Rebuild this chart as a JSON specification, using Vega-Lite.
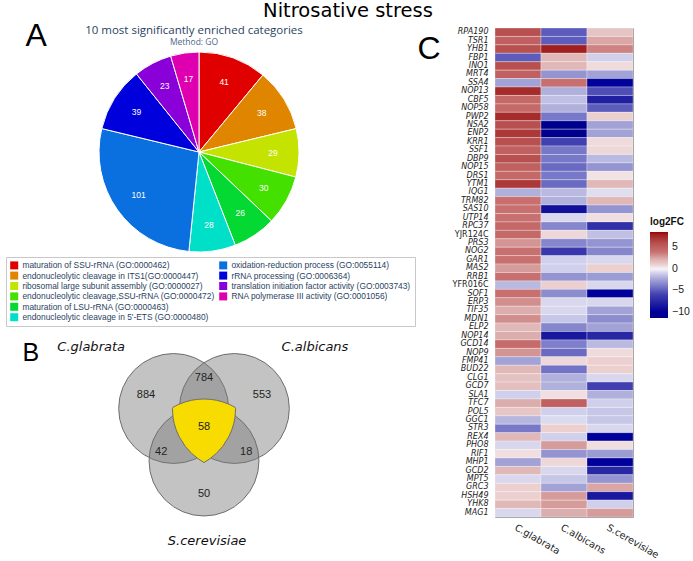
{
  "$schema": "https://vega.github.io/schema/vega-lite/v6.json",
  "background": "white",
  "padding": {"left": 5, "top": 0, "right": 0, "bottom": 0},
  "config": {"view": {"stroke": null}, "font": "Liberation Sans"},
  "title": {"text": "Nitrosative stress", "font": "DejaVu Sans", "fontSize": 19.5, "fontWeight": "normal", "color": "#000000", "anchor": "middle", "offset": -2},
  "datasets": {
    "pie": [
      {"idx": 1, "category": "maturation of SSU-rRNA (GO:0000462)", "count": 41},
      {"idx": 2, "category": "endonucleolytic cleavage in ITS1(GO:0000447)", "count": 38},
      {"idx": 3, "category": "ribosomal large subunit assembly (GO:0000027)", "count": 29},
      {"idx": 4, "category": "endonucleolytic cleavage,SSU-rRNA (GO:0000472)", "count": 30},
      {"idx": 5, "category": "maturation of LSU-rRNA (GO:0000463)", "count": 26},
      {"idx": 6, "category": "endonucleolytic cleavage in 5'-ETS (GO:0000480)", "count": 28},
      {"idx": 7, "category": "oxidation-reduction process (GO:0055114)", "count": 101},
      {"idx": 8, "category": "rRNA processing (GO:0006364)", "count": 39},
      {"idx": 9, "category": "translation initiation factor activity (GO:0003743)", "count": 23},
      {"idx": 10, "category": "RNA polymerase III activity (GO:0001056)", "count": 17}
    ]
  },
  "spacing": 158,
  "bounds": "flush",
  "hconcat": [
    {
      "width": 276,
      "height": 248,
      "title": {"text": "10 most significantly enriched categories", "subtitle": "Method: GO", "fontSize": 11.5, "font": "Open Sans", "fontWeight": "normal", "color": "#2a3f5f", "subtitleFont": "Open Sans", "subtitleFontSize": 8.5, "subtitleColor": "#506784", "subtitlePadding": 1, "offset": 0, "dy": 27, "frame": "group", "anchor": "middle", "dx": -5},
      "layer": [
        {
          "data": {"name": "pie"},
          "mark": {"type": "arc", "outerRadius": 100, "stroke": "#ffffff", "strokeWidth": 1},
          "encoding": {
            "theta": {"field": "count", "type": "quantitative", "stack": true},
            "order": {"field": "idx", "type": "quantitative"},
            "color": {
              "field": "category", "type": "nominal",
              "scale": {
                "domain": ["maturation of SSU-rRNA (GO:0000462)", "endonucleolytic cleavage in ITS1(GO:0000447)", "ribosomal large subunit assembly (GO:0000027)", "endonucleolytic cleavage,SSU-rRNA (GO:0000472)", "maturation of LSU-rRNA (GO:0000463)", "endonucleolytic cleavage in 5'-ETS (GO:0000480)", "oxidation-reduction process (GO:0055114)", "rRNA processing (GO:0006364)", "translation initiation factor activity (GO:0003743)", "RNA polymerase III activity (GO:0001056)", "blank1", "blank2"],
                "range": ["#e00000", "#e08500", "#c5e300", "#44e000", "#03d932", "#00dfc8", "#0a6fdf", "#0000dd", "#8a00d8", "#de00b0", "#ffffff", "#ffffff"]
              },
              "legend": {
                "title": null, "orient": "none", "legendX": -55, "legendY": 229, "columns": 2,
                "symbolType": "square", "symbolSize": 64, "symbolStrokeWidth": 0,
                "labelFont": "Liberation Sans", "labelFontSize": 8.4, "labelColor": "#2a3f5f", "labelLimit": 300,
                "rowPadding": 1.4, "columnPadding": 4, "padding": 4, "strokeColor": "#c8c8c8",
                "labelExpr": "indexof(datum.value, 'blank') === 0 ? '' : datum.label",
                "encode": {"symbols": {"update": {"opacity": {"signal": "indexof(datum.value, 'blank') === 0 ? 0 : 1"}}}}
              }
            }
          }
        },
        {
          "data": {"name": "pie"},
          "mark": {"type": "text", "radius": 74, "fontSize": 8.5, "font": "Liberation Sans"},
          "encoding": {
            "theta": {"field": "count", "type": "quantitative", "stack": true},
            "order": {"field": "idx", "type": "quantitative"},
            "text": {"field": "count", "type": "quantitative"},
            "detail": {"field": "category", "type": "nominal"},
            "color": {"value": "#ffffff"}
          }
        },
        {
          "data": {"values": [
            {"set": "C.glabrata", "cx": -0.49, "cy": 0.492},
            {"set": "C.albicans", "cx": 0.49, "cy": 0.492},
            {"set": "S.cerevisiae", "cx": 0, "cy": -0.355}
          ]},
          "mark": {"type": "point", "shape": "circle", "size": 12076, "filled": true, "fill": "#7a7a7a", "fillOpacity": 0.45, "opacity": 1, "stroke": "#6e6e6e", "strokeWidth": 1, "strokeOpacity": 1},
          "encoding": {
            "x": {"field": "cx", "type": "quantitative", "title": "B", "scale": {"domain": [-2.3065, 2.1452], "nice": false, "zero": false},
              "axis": {"orient": "bottom", "labels": false, "ticks": false, "domain": false, "grid": false, "titleX": -39, "titleY": 84, "titleAlign": "left", "titleBaseline": "alphabetic", "titleAnchor": "start", "titleFontSize": 25, "titleFont": "Liberation Sans", "titleFontWeight": "normal", "titleColor": "#000000"}},
            "y": {"field": "cy", "type": "quantitative", "title": "A", "scale": {"domain": [2.629, 6.629], "nice": false, "zero": false},
              "axis": {"orient": "left", "labels": false, "ticks": false, "domain": false, "grid": false, "titleAngle": 0, "titleX": -36, "titleY": 17, "titleAlign": "left", "titleBaseline": "alphabetic", "titleAnchor": "start", "titleFontSize": 32, "titleFont": "Liberation Sans", "titleFontWeight": "normal", "titleColor": "#000000"}}
          }
        },
        {
          "data": {"values": [
            {"x": -0.51, "top": 0.492, "bot": 0.492},
            {"x": -0.5, "top": 0.511, "bot": 0.351},
            {"x": -0.48, "top": 0.522, "bot": 0.249},
            {"x": -0.45, "top": 0.538, "bot": 0.151},
            {"x": -0.4, "top": 0.562, "bot": 0.036},
            {"x": -0.3, "top": 0.599, "bot": -0.121},
            {"x": -0.2, "top": 0.625, "bot": -0.232},
            {"x": -0.1, "top": 0.640, "bot": -0.315},
            {"x": 0, "top": 0.645, "bot": -0.380},
            {"x": 0.1, "top": 0.640, "bot": -0.315},
            {"x": 0.2, "top": 0.625, "bot": -0.232},
            {"x": 0.3, "top": 0.599, "bot": -0.121},
            {"x": 0.4, "top": 0.562, "bot": 0.036},
            {"x": 0.45, "top": 0.538, "bot": 0.151},
            {"x": 0.48, "top": 0.522, "bot": 0.249},
            {"x": 0.5, "top": 0.511, "bot": 0.351},
            {"x": 0.51, "top": 0.492, "bot": 0.492}
          ]},
          "mark": {"type": "area", "fill": "#f8dc00", "stroke": "#6e6e6e", "strokeWidth": 1, "opacity": 1},
          "encoding": {
            "x": {"field": "x", "type": "quantitative", "title": "B"},
            "y": {"field": "top", "type": "quantitative", "title": "A"},
            "y2": {"field": "bot"}
          }
        },
        {
          "data": {"values": [
            {"n": "884", "x": -0.935, "y": 0.71},
            {"n": "784", "x": 0, "y": 0.98},
            {"n": "553", "x": 0.935, "y": 0.71},
            {"n": "58", "x": 0, "y": 0.19},
            {"n": "42", "x": -0.69, "y": -0.21},
            {"n": "18", "x": 0.68, "y": -0.21},
            {"n": "50", "x": 0, "y": -0.89}
          ]},
          "mark": {"type": "text", "font": "Liberation Sans", "fontSize": 11, "color": "#222222"},
          "encoding": {
            "x": {"field": "x", "type": "quantitative", "title": "B"},
            "y": {"field": "y", "type": "quantitative", "title": "A"},
            "text": {"field": "n"}
          }
        },
        {
          "data": {"values": [
            {"name": "C.glabrata", "x": -1.82, "y": 1.48},
            {"name": "C.albicans", "x": 1.79, "y": 1.48},
            {"name": "S.cerevisiae", "x": 0.05, "y": -1.645}
          ]},
          "mark": {"type": "text", "font": "DejaVu Sans", "fontSize": 13, "fontStyle": "italic", "color": "#111111"},
          "encoding": {
            "x": {"field": "x", "type": "quantitative", "title": "B"},
            "y": {"field": "y", "type": "quantitative", "title": "A"},
            "text": {"field": "name"}
          }
        }
      ]
    },
    {
      "width": 138,
      "height": 489,
      "view": {"stroke": "#999999", "strokeWidth": 1},
      "data": {"values": [
        {"gene": "RPA190", "gl": 6, "al": -5, "sc": 1.5},
        {"gene": "TSR1", "gl": 5, "al": -5, "sc": 2.5},
        {"gene": "YHB1", "gl": 6, "al": 8, "sc": 3.5},
        {"gene": "FBP1", "gl": -5, "al": 2, "sc": -1},
        {"gene": "INO1", "gl": 6, "al": 2, "sc": 0.7},
        {"gene": "MRT4", "gl": 5, "al": -3, "sc": -2.5},
        {"gene": "SSA4", "gl": -2.5, "al": 4, "sc": -10},
        {"gene": "NOP13", "gl": 7.5, "al": -2, "sc": -5.5},
        {"gene": "CBF5", "gl": 4.5, "al": -1.5, "sc": -8},
        {"gene": "NOP58", "gl": 4.5, "al": -2, "sc": -5},
        {"gene": "PWP2", "gl": 7.5, "al": -4, "sc": 1},
        {"gene": "NSA2", "gl": 6, "al": -11, "sc": -2.5},
        {"gene": "ENP2", "gl": 7, "al": -11, "sc": -2.5},
        {"gene": "KRR1", "gl": 6, "al": -6, "sc": 0.7},
        {"gene": "SSF1", "gl": 5, "al": -4, "sc": 0.8},
        {"gene": "DBP9", "gl": 6, "al": -4, "sc": -1.7},
        {"gene": "NOP15", "gl": 5, "al": -4.5, "sc": -3},
        {"gene": "DRS1", "gl": 4.5, "al": -4, "sc": 0.5},
        {"gene": "YTM1", "gl": 7, "al": -4.5, "sc": 2},
        {"gene": "IQG1", "gl": -2, "al": -1.7, "sc": -0.6},
        {"gene": "TRM82", "gl": 4, "al": -2, "sc": 2},
        {"gene": "SAS10", "gl": 4, "al": -9, "sc": -3},
        {"gene": "UTP14", "gl": 4, "al": -0.8, "sc": 0.6},
        {"gene": "RPC37", "gl": 4.5, "al": -3.5, "sc": -7},
        {"gene": "YJR124C", "gl": 4.5, "al": 0.8, "sc": -1.5},
        {"gene": "PRS3", "gl": 3, "al": -3.5, "sc": -3},
        {"gene": "NOG2", "gl": 4, "al": -6.5, "sc": -3.5},
        {"gene": "GAR1", "gl": 4, "al": -1, "sc": -0.8},
        {"gene": "MAS2", "gl": 2.8, "al": -1, "sc": 1},
        {"gene": "RRB1", "gl": 4, "al": -3, "sc": -2.7},
        {"gene": "YFR016C", "gl": -1.7, "al": 1, "sc": -0.8},
        {"gene": "SOF1", "gl": 4, "al": -3.3, "sc": -10},
        {"gene": "ERP3", "gl": 3.2, "al": -0.8, "sc": -0.8},
        {"gene": "TIF35", "gl": 2.3, "al": -0.8, "sc": -2.5},
        {"gene": "MDN1", "gl": 3.2, "al": -1.3, "sc": -3.3},
        {"gene": "ELP2", "gl": 2, "al": -3.5, "sc": -2.5},
        {"gene": "NOP14", "gl": 2.3, "al": -8.5, "sc": -7.5},
        {"gene": "GCD14", "gl": 4.3, "al": -3.8, "sc": -1.7},
        {"gene": "NOP9", "gl": 3, "al": -4.5, "sc": 0.7},
        {"gene": "FMP41", "gl": -2.5, "al": 0.8, "sc": 1},
        {"gene": "BUD22", "gl": 2, "al": -4.2, "sc": 1},
        {"gene": "CLG1", "gl": 1.6, "al": -2, "sc": -0.8},
        {"gene": "GCD7", "gl": 1.7, "al": -2, "sc": -6},
        {"gene": "SLA1", "gl": -1, "al": 0.6, "sc": -2},
        {"gene": "TFC7", "gl": 2.3, "al": 5, "sc": -1},
        {"gene": "POL5", "gl": 1.4, "al": -1, "sc": -1.3},
        {"gene": "GGC1", "gl": -1.8, "al": -0.7, "sc": -1.3},
        {"gene": "STR3", "gl": -4, "al": 1, "sc": -0.8},
        {"gene": "REX4", "gl": 2, "al": -1, "sc": -10},
        {"gene": "PHO8", "gl": -0.8, "al": 2.8, "sc": 0.6},
        {"gene": "RIF1", "gl": 0.6, "al": -3, "sc": -2.7},
        {"gene": "MHP1", "gl": -2.5, "al": 0.8, "sc": -10},
        {"gene": "GCD2", "gl": 2, "al": -0.8, "sc": -7.5},
        {"gene": "MPT5", "gl": -0.8, "al": -1.3, "sc": -3},
        {"gene": "GRC3", "gl": 1, "al": -2.5, "sc": 2.5},
        {"gene": "HSH49", "gl": 1, "al": 2.8, "sc": -8.5},
        {"gene": "YHK8", "gl": 2, "al": 2.8, "sc": -1},
        {"gene": "MAG1", "gl": -0.8, "al": 2.3, "sc": 2.8}
      ]},
      "transform": [{"fold": ["gl", "al", "sc"], "as": ["species", "log2FC"]}],
      "mark": {"type": "rect", "stroke": "#ffffff", "strokeWidth": 0.5, "strokeOpacity": 0.6},
      "encoding": {
        "x": {
          "field": "species", "type": "nominal", "sort": ["gl", "al", "sc"],
          "scale": {"paddingInner": 0, "paddingOuter": 0},
          "axis": {"title": null, "labelExpr": "datum.value === 'gl' ? 'C.glabrata' : datum.value === 'al' ? 'C.albicans' : 'S.cerevisiae'", "labelAngle": 30, "labelAlign": "left", "labelBaseline": "top", "ticks": false, "domain": false, "labelPadding": 5, "labelFont": "DejaVu Sans", "labelFontSize": 9.7, "labelColor": "#222222"}
        },
        "y": {
          "field": "gene", "type": "nominal", "sort": null,
          "scale": {"paddingInner": 0, "paddingOuter": 0},
          "axis": {
            "title": "C", "titleAngle": 0, "titleFontSize": 32, "titleFont": "Liberation Sans", "titleFontWeight": "normal", "titleColor": "#000000",
            "titleX": -78, "titleY": 30, "titleAlign": "left", "titleBaseline": "alphabetic", "titleAnchor": "start",
            "labelFont": "DejaVu Sans", "labelFontSize": 8, "labelColor": "#222222",
            "labelFontStyle": {"condition": {"test": "datum.value === 'YJR124C' || datum.value === 'YFR016C'", "value": "normal"}, "value": "italic"},
            "ticks": false, "domain": false, "labelPadding": 7
          }
        },
        "color": {
          "field": "log2FC", "type": "quantitative",
          "scale": {
            "domain": [-11.4, -10, -8, -6, -4, -2, -1, 0, 1, 2, 4, 6, 8, 8.6],
            "range": ["#00008b", "#00009a", "#2020a0", "#4040b0", "#7878c8", "#b0b0dc", "#d0d0ec", "#f6f4f8", "#ecd0d0", "#e0b8b8", "#c87070", "#b85050", "#a02020", "#990000"],
            "interpolate": "rgb"
          },
          "legend": {
            "title": "log2FC", "titleFont": "Liberation Sans", "titleFontSize": 10, "titleFontWeight": "bold", "titleColor": "#111111", "titlePadding": 5,
            "orient": "none", "legendX": 155, "legendY": 189, "direction": "vertical",
            "gradientLength": 86, "gradientThickness": 18, "gradientStrokeWidth": 0,
            "values": [-10, -5, 0, 5],
            "labelExpr": "datum.value < 0 ? '\u2212' + abs(datum.value) : '' + datum.value",
            "labelFont": "Liberation Sans", "labelFontSize": 10.5, "labelColor": "#222222", "labelOffset": 4
          }
        }
      }
    }
  ]
}
